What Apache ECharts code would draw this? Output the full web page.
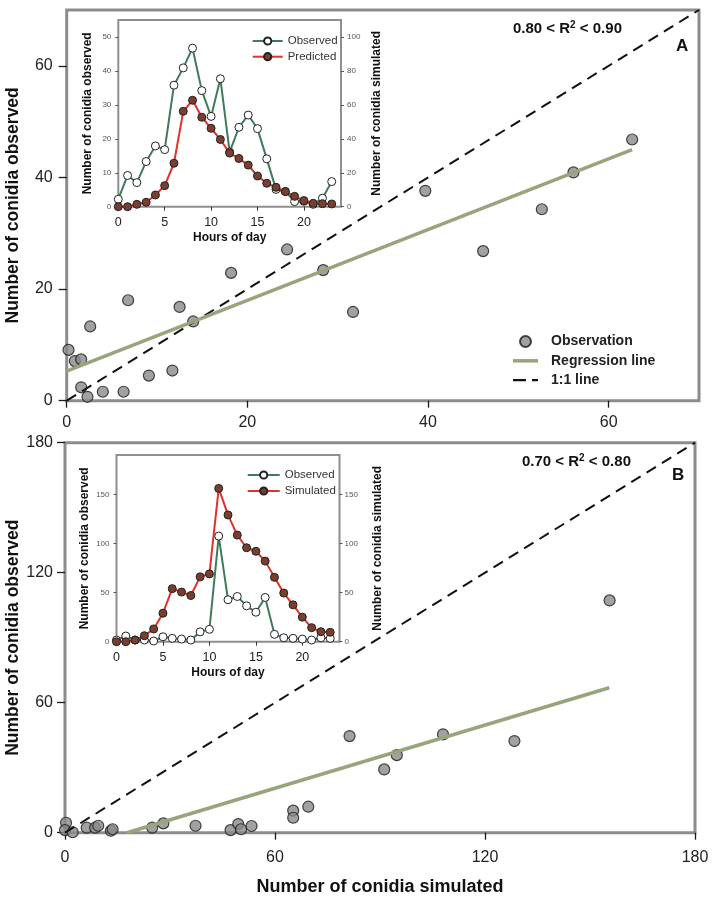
<!DOCTYPE html>
<html><head><meta charset="utf-8">
<script src="https://cdn.jsdelivr.net/npm/echarts@6/dist/echarts.min.js"></script>
<style>
html,body{margin:0;padding:0;background:#fff;}
#wrap{position:relative;width:719px;height:901px;}
#main,#inset{position:absolute;left:0;top:0;width:719px;height:901px;}
</style></head><body>
<div id="wrap"><div id="main"></div><div id="inset"></div></div>
<script>
// ---------- Panel A scatter (simulated vs observed) ----------
const simA = [0.2, 0.9, 1.6, 2.6, 1.6, 2.3, 4.0, 6.3, 6.8, 9.1, 11.7, 12.5, 14.0, 18.2, 24.4, 28.4, 31.7, 39.7, 46.1, 52.6, 56.1, 62.6];
const obsA = [9.1, 7.1, 7.4, 13.3, 2.4, 0.7, 1.6, 1.6, 18.0, 4.5, 5.4, 16.8, 14.2, 22.9, 27.1, 23.4, 15.9, 37.6, 26.8, 34.3, 40.9, 46.8];
const regA_sim = [0, 62.6];
const regA_obs = [5.3, 45.0];
const oneA = [0, 70];
// ---------- Panel B scatter ----------
const simB = [0.3, 0.0, 2.2, 6.2, 8.6, 9.5, 13.1, 13.6, 24.9, 28.1, 37.3, 47.3, 49.5, 50.3, 53.3, 65.2, 65.2, 69.5, 81.3, 91.2, 94.8, 108.0, 128.4, 155.6];
const obsB = [4.6, 1.2, 0.2, 2.3, 2.3, 3.2, 0.9, 1.6, 2.3, 4.3, 3.2, 1.2, 4.0, 1.6, 3.1, 10.2, 6.9, 12.0, 44.6, 29.2, 35.8, 45.4, 42.3, 107.2];
const regB_sim = [17.7, 155.5];
const regB_obs = [0, 66.9];
const oneB = [0, 180];
// ---------- Insets (hourly) ----------
const hours = [0,1,2,3,4,5,6,7,8,9,10,11,12,13,14,15,16,17,18,19,20,21,22,23];
const insetObsA  = [2.2, 9.2, 7.1, 13.3, 17.9, 16.8, 35.8, 40.9, 46.7, 34.2, 26.6, 37.7, 16.1, 23.4, 27.0, 23.0, 14.1, 5.1, 4.5, 1.5, 1.6, 0.7, 2.5, 7.4];
const insetPredA = [0, 0, 1.4, 2.6, 6.9, 12.4, 25.6, 56.2, 62.7, 52.7, 46.2, 39.6, 31.6, 28.4, 24.5, 18.1, 13.8, 11.4, 8.9, 6.1, 3.6, 2.0, 1.8, 1.6];
const insetObsB  = [1.7, 5.8, 1.7, 1.7, 0.7, 5.0, 3.4, 2.7, 1.7, 10.0, 12.6, 107.5, 42.7, 46.0, 36.5, 30.0, 45.0, 7.5, 4.0, 3.4, 2.7, 1.7, 4.0, 3.4];
const insetSimB  = [0, 0, 1.7, 6.1, 13.0, 29.0, 54.0, 50.5, 47.0, 66.0, 69.0, 156.0, 129.0, 108.5, 95.6, 92.0, 82.0, 65.5, 49.5, 37.5, 25.0, 14.3, 10.2, 9.6];
// ---------- Tick labels ----------
const ticksA = [0, 20, 40, 60];
const ticksB = [0, 60, 120, 180];
const hourTicks = [0, 5, 10, 15, 20];
const insetTicksAObs = [0, 10, 20, 30, 40, 50];
const insetTicksASim = [0, 20, 40, 60, 80, 100];
const insetTicksB = [0, 50, 100, 150];

const SANS = "'Liberation Sans', Arial, Helvetica, sans-serif";

const pairs = (xs, ys) => xs.map((x, i) => [x, ys[i]]);

function mainX(grid, max, ticks, margin, extra) {
  return Object.assign({
    gridIndex: grid, type: 'value', min: 0, max: max,
    axisLine: {show: false}, splitLine: {show: false},
    axisTick: {show: true, length: 7, customValues: ticks, lineStyle: {color: '#1a1a1a', width: 1.3}},
    axisLabel: {customValues: ticks, margin: margin, fontSize: 16, color: '#222', fontFamily: SANS}
  }, extra || {});
}
function mainY(grid, max, ticks, margin, gap) {
  return {
    gridIndex: grid, type: 'value', min: 0, max: max,
    axisLine: {show: false}, splitLine: {show: false},
    axisTick: {show: true, length: 8, customValues: ticks, lineStyle: {color: '#1a1a1a', width: 1.3}},
    axisLabel: {customValues: ticks, margin: margin, fontSize: 16, color: '#222', fontFamily: SANS},
    name: 'Number of conidia observed', nameLocation: 'middle', nameRotate: 90, nameGap: gap,
    nameMoveOverlap: false,
    nameTextStyle: {fontSize: 17.5, fontWeight: 'bold', color: '#111', fontFamily: SANS}
  };
}
const dotStyle = {color: '#8a8a8a', borderColor: '#1a1a1a', borderWidth: 1.2};
const regColor = '#98a57c';
const supRich = {
  n: {fontSize: 15, fontWeight: 'bold', color: '#111', fontFamily: SANS, lineHeight: 18},
  s: {fontSize: 10, fontWeight: 'bold', color: '#111', fontFamily: SANS, lineHeight: 10, verticalAlign: 'top'}
};
const gridBase = {show: true, borderColor: '#8c8c8c', borderWidth: 3, backgroundColor: 'transparent', outerBoundsMode: 'none', containLabel: false};

const main = echarts.init(document.getElementById('main'), null, {renderer: 'canvas'});
main.setOption({
  animation: false,
  backgroundColor: '#fff',
  title: [
    {text: '{n|0.80 < R}{s|2}{n| < 0.90}', left: 513, top: 20, padding: 0, textStyle: {rich: supRich}},
    {text: 'A', left: 676, top: 38, padding: 0, textStyle: {fontSize: 17, fontWeight: 'bold', color: '#111', fontFamily: SANS}},
    {text: '{n|0.70 < R}{s|2}{n| < 0.80}', left: 522, top: 453, padding: 0, textStyle: {rich: supRich}},
    {text: 'B', left: 672, top: 467, padding: 0, textStyle: {fontSize: 17, fontWeight: 'bold', color: '#111', fontFamily: SANS}}
  ],
  legend: {
    left: 508, top: 328.5, orient: 'vertical', itemWidth: 25, itemHeight: 11, itemGap: 3.3,
    selectedMode: false,
    data: [
      {name: 'Observation'},
      {name: 'Regression line', icon: 'path://M0,0 L25,0 L25,3.5 L0,3.5 Z'},
      {name: '1:1 line', icon: 'path://M0,0 L13,0 L13,2.2 L0,2.2 Z M19,0 L25,0 L25,2.2 L19,2.2 Z'}
    ],
    textStyle: {fontSize: 14, fontWeight: 'bold', color: '#222', fontFamily: SANS, lineHeight: 16, padding: [0, 0, 0, 8]}
  },
  grid: [
    Object.assign({left: 66.7, top: 10, width: 632.3, height: 390.7}, gridBase),
    Object.assign({left: 65, top: 442.7, width: 630, height: 390}, gridBase)
  ],
  xAxis: [
    mainX(0, 70, ticksA, 14),
    mainX(1, 180, ticksB, 17, {
      name: 'Number of conidia simulated', nameLocation: 'middle', nameGap: 45, nameMoveOverlap: false,
      nameTextStyle: {fontSize: 18, fontWeight: 'bold', color: '#111', fontFamily: SANS}
    })
  ],
  yAxis: [mainY(0, 70, ticksA, 14, 44.7), mainY(1, 180, ticksB, 12, 43.3)],
  series: [
    {name: '1:1 line', type: 'line', xAxisIndex: 0, yAxisIndex: 0, data: pairs(oneA, oneA), symbol: 'none',
     lineStyle: {color: '#111', width: 2, type: [11, 7]}, itemStyle: {color: '#111'}},
    {name: 'Regression line', type: 'line', xAxisIndex: 0, yAxisIndex: 0, data: pairs(regA_sim, regA_obs), symbol: 'none',
     lineStyle: {color: regColor, width: 3.5}, itemStyle: {color: regColor}},
    {name: 'Observation', type: 'scatter', xAxisIndex: 0, yAxisIndex: 0, data: pairs(simA, obsA), symbol: 'circle', symbolSize: 11, itemStyle: dotStyle},
    {name: '1:1 line B', type: 'line', xAxisIndex: 1, yAxisIndex: 1, data: pairs(oneB, oneB), symbol: 'none',
     lineStyle: {color: '#111', width: 2, type: [11, 7]}},
    {name: 'Regression line B', type: 'line', xAxisIndex: 1, yAxisIndex: 1, data: pairs(regB_sim, regB_obs), symbol: 'none',
     lineStyle: {color: regColor, width: 3.5}},
    {name: 'Observation B', type: 'scatter', xAxisIndex: 1, yAxisIndex: 1, data: pairs(simB, obsB), symbol: 'circle', symbolSize: 11, itemStyle: dotStyle}
  ]
});

// ---------- insets ----------
const GREEN = '#3f7a5b', RED = '#e2302a', BROWN = '#7a3e2f';
function insetX(grid) {
  return {
    gridIndex: grid, type: 'value', min: 0, max: 24,
    axisLine: {show: false}, splitLine: {show: false},
    axisTick: {show: true, length: 4, customValues: hourTicks, lineStyle: {color: '#333'}},
    axisLabel: {customValues: hourTicks, margin: 9, fontSize: 12.5, color: '#222', fontFamily: SANS},
    name: 'Hours of day', nameLocation: 'middle', nameGap: 24.5, nameMoveOverlap: false,
    nameTextStyle: {fontSize: 12, fontWeight: 'bold', color: '#111', fontFamily: SANS}
  };
}
function insetY(grid, pos, max, ticks, name, gap, margin) {
  return {
    gridIndex: grid, type: 'value', position: pos, min: 0, max: max,
    axisLine: {show: false}, splitLine: {show: false},
    axisTick: {show: true, length: 3, customValues: ticks, lineStyle: {color: '#555'}},
    axisLabel: {customValues: ticks, margin: margin, fontSize: 8, color: '#555', fontFamily: SANS},
    name: name, nameLocation: 'middle', nameRotate: 90, nameGap: gap, nameMoveOverlap: false,
    nameTextStyle: {fontSize: 12, fontWeight: 'bold', color: '#111', fontFamily: SANS}
  };
}
function hourSeries(name, xi, yi, vals, fill, lineColor) {
  return {
    name: name, type: 'line', xAxisIndex: xi, yAxisIndex: yi, data: pairs(hours, vals),
    symbol: 'circle', symbolSize: 8, showSymbol: true,
    itemStyle: {color: fill, borderColor: '#222', borderWidth: 1},
    lineStyle: {color: lineColor, width: 2}
  };
}
const insetGrid = {show: true, backgroundColor: '#fff', borderColor: '#8f8f8f', borderWidth: 2, outerBoundsMode: 'none', containLabel: false};
const inset = echarts.init(document.getElementById('inset'), null, {renderer: 'canvas'});
inset.setOption({
  animation: false,
  legend: [
    {left: 246.7, top: 29.5, orient: 'vertical', itemWidth: 30, itemHeight: 9, itemGap: 2.7, selectedMode: false,
     data: ['Observed', 'Predicted'], textStyle: {fontSize: 11.5, color: '#333', fontFamily: SANS, lineHeight: 13}},
    {left: 241.7, top: 463.5, orient: 'vertical', itemWidth: 32, itemHeight: 9, itemGap: 3, selectedMode: false,
     data: ['Observed', 'Simulated'], textStyle: {fontSize: 11.5, color: '#333', fontFamily: SANS, lineHeight: 13}}
  ],
  grid: [
    Object.assign({left: 118.3, top: 20, width: 222.7, height: 186.7}, insetGrid),
    Object.assign({left: 116.5, top: 455, width: 223, height: 186.7}, insetGrid)
  ],
  xAxis: [insetX(0), insetX(1)],
  yAxis: [
    insetY(0, 'left', 55, insetTicksAObs, 'Number of conidia observed', 25, 7),
    insetY(0, 'right', 110, insetTicksASim, 'Number of conidia simulated', 30, 6),
    insetY(1, 'left', 190, insetTicksB, 'Number of conidia observed', 25.5, 7),
    insetY(1, 'right', 190, insetTicksB, 'Number of conidia simulated', 32, 5)
  ],
  series: [
    hourSeries('Observed', 0, 0, insetObsA, '#fff', GREEN),
    hourSeries('Predicted', 0, 1, insetPredA, BROWN, RED),
    hourSeries('Observed', 1, 2, insetObsB, '#fff', GREEN),
    hourSeries('Simulated', 1, 3, insetSimB, BROWN, RED)
  ]
});
</script>
</body></html>
